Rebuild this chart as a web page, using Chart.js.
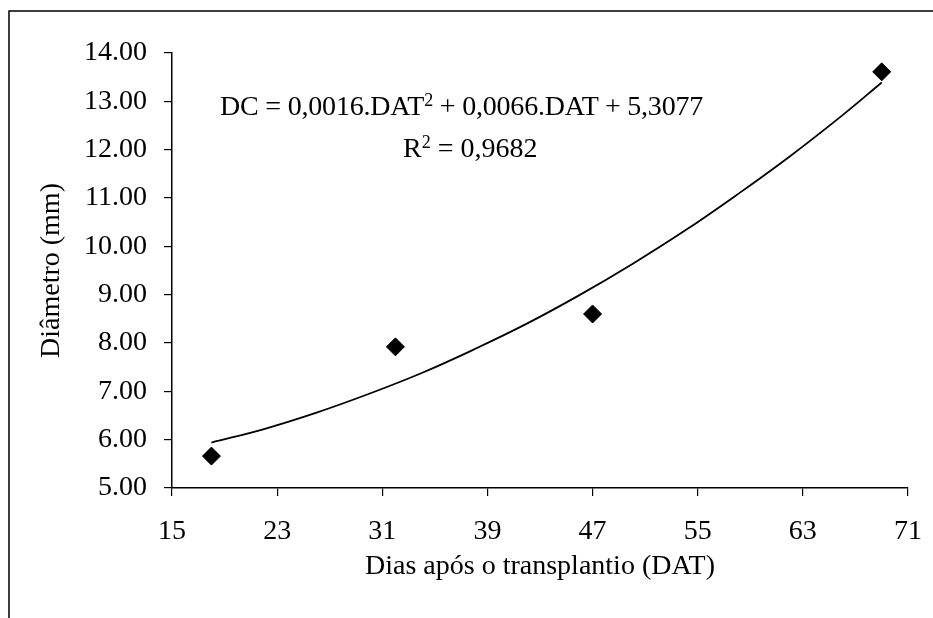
<!DOCTYPE html>
<html>
<head>
<meta charset="utf-8">
<script src="https://cdn.jsdelivr.net/npm/chart.js@4.4.1/dist/chart.umd.min.js"></script>
<style>
    html, body { margin: 0; padding: 0; background: #fff; }
    #wrap { position: relative; width: 933px; height: 618px; }
    .eq {
        position: absolute;
        font-family: "Liberation Serif", "Times New Roman", serif;
        font-size: 28px;
        line-height: 28px;
        color: #000;
        white-space: nowrap;
    }
    .eq .sup { font-size: 18px; position: relative; top: -9px; }
</style>
</head>
<body>
<div id="wrap">
    <canvas id="grafico" width="933" height="618"></canvas>
    <div class="eq" style="left:220px; top:92px; letter-spacing:-0.2px;">DC = 0,0016.DAT<span class="sup">2</span> + 0,0066.DAT + 5,3077</div>
    <div class="eq" style="left:403px; top:134px;">R<span class="sup">2</span> = 0,9682</div>
</div>
<script>
// Dados observados (dias após transplantio x diâmetro)
const dias = [18, 32, 47, 69];
const diametro = [5.66, 7.92, 8.60, 13.61];

// Linha de tendência
const tendDias = [18, 22, 26, 30, 34, 38, 42, 46, 50, 54, 58, 62, 66, 69];
const tendDiametro = [5.94, 6.22, 6.56, 6.95, 7.38, 7.87, 8.40, 8.99, 9.63, 10.32, 11.07, 11.86, 12.71, 13.39];

const fonte = { family: '"Liberation Serif", "Times New Roman", serif', size: 28 };
const fonteTitulo = { family: '"Liberation Serif", "Times New Roman", serif', size: 28 };

// moldura (só esquerda e topo aparecem na figura)
const moldura = {
    id: 'moldura',
    beforeDraw(chart) {
        const c = chart.ctx;
        c.save();
        c.strokeStyle = '#000';
        c.lineWidth = 1.5;
        c.beginPath();
        c.moveTo(9, 618);
        c.lineTo(9, 11);
        c.lineTo(933, 11);
        c.stroke();
        c.restore();
    }
};

new Chart(document.getElementById('grafico'), {
    type: 'scatter',
    data: {
        datasets: [
            {
                data: tendDias.map((d, i) => ({ x: d, y: tendDiametro[i] })),
                showLine: true,
                borderColor: '#000',
                borderWidth: 1.8,
                pointRadius: 0,
                tension: 0.4,
                fill: false,
                order: 2
            },
            {
                data: dias.map((d, i) => ({ x: d, y: diametro[i] })),
                pointStyle: 'rectRot',
                pointRadius: 9,
                backgroundColor: '#000',
                borderColor: '#000',
                order: 1
            }
        ]
    },
    options: {
        responsive: false,
        animation: false,
        layout: { padding: { left: 31, top: 53, right: 25, bottom: 31 } },
        plugins: { legend: { display: false }, tooltip: { enabled: false } },
        scales: {
            x: {
                type: 'linear',
                min: 15,
                max: 71,
                ticks: { stepSize: 8, font: fonte, color: '#000', padding: 19 },
                grid: { drawOnChartArea: false, color: '#000', tickLength: 8, lineWidth: 1.2 },
                border: { color: '#000', width: 1.5 },
                title: { display: true, text: 'Dias após o transplantio (DAT)', font: fonteTitulo, color: '#000', padding: { top: 4, bottom: 4 } },
                afterFit(s) { s.height = 99; s.paddingLeft = 0; s.paddingRight = 0; }
            },
            y: {
                min: 5,
                max: 14,
                ticks: { stepSize: 1, font: fonte, color: '#000', padding: 17, callback: v => v.toFixed(2) },
                grid: { drawOnChartArea: false, color: '#000', tickLength: 8, lineWidth: 1.2 },
                border: { color: '#000', width: 1.5 },
                title: { display: true, text: 'Diâmetro (mm)', font: fonteTitulo, color: '#000', padding: { top: 4, bottom: 4 } },
                afterFit(s) { s.width = 141; s.paddingTop = 0; s.paddingBottom = 0; }
            }
        }
    },
    plugins: [moldura]
});
</script>
</body>
</html>
